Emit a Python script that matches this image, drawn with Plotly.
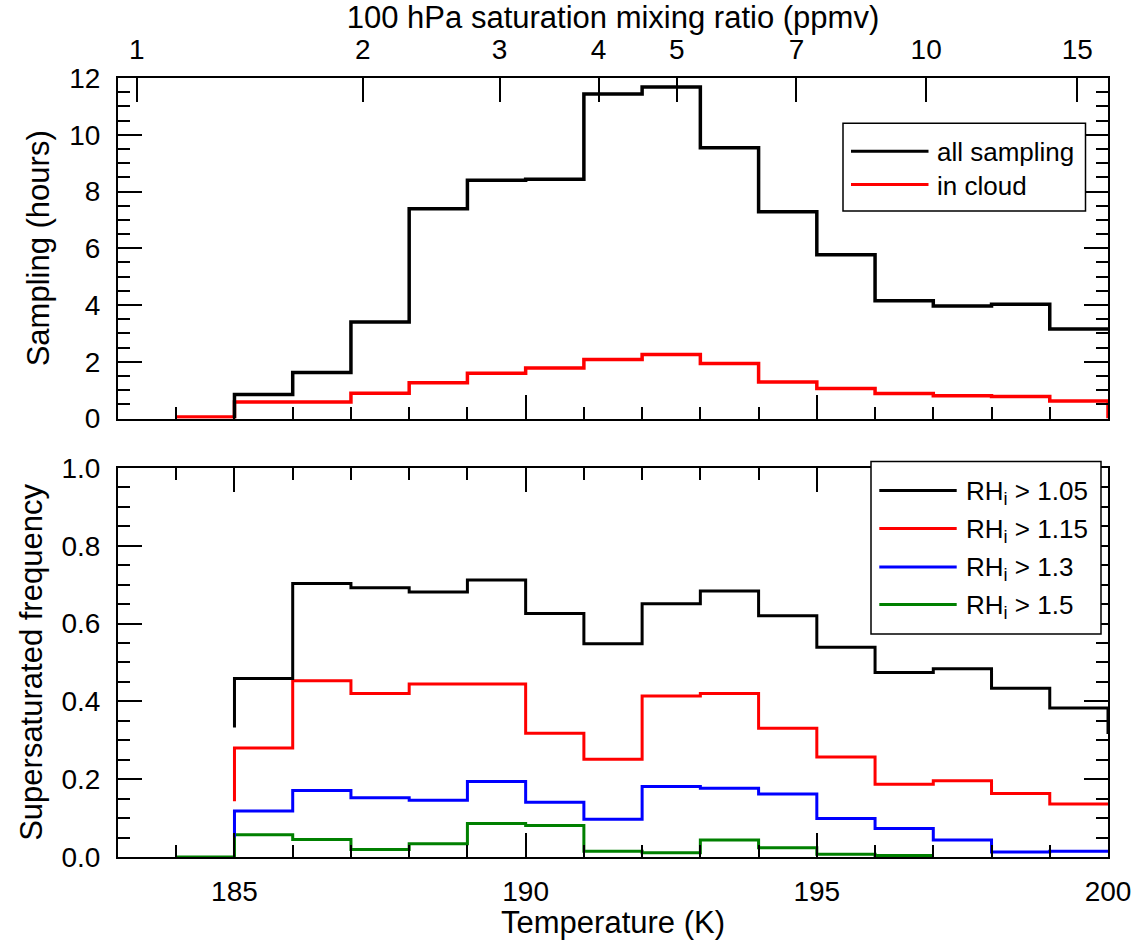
import math
import plotly.graph_objects as go

# ---------------- data ----------------
# Top panel: sampling hours in 1 K temperature bins
all_edges = [185, 186, 187, 188, 189, 190, 191, 192, 193, 194, 195, 196, 197, 198, 199, 200]
all_sampling = [0.85, 1.62, 3.40, 7.39, 8.40, 8.43, 11.44, 11.68, 9.54, 7.29, 5.77, 4.15, 3.97, 4.03, 3.16]
all_start = 0.0

cloud_edges = [184, 185, 186, 187, 188, 189, 190, 191, 192, 193, 194, 195, 196, 197, 198, 199, 200]
in_cloud = [0.06, 0.58, 0.58, 0.89, 1.26, 1.60, 1.78, 2.08, 2.26, 1.94, 1.29, 1.06, 0.88, 0.80, 0.78, 0.62]
cloud_end = 0.0

# Bottom panel: supersaturated frequency
rh_edges = [185, 186, 187, 188, 189, 190, 191, 192, 193, 194, 195, 196, 197, 198, 199, 200]
rh105 = [0.459, 0.703, 0.692, 0.681, 0.712, 0.626, 0.548, 0.651, 0.684, 0.620, 0.539, 0.474, 0.484, 0.434, 0.383]
rh105_start, rh105_end = 0.333, 0.316
rh115 = [0.280, 0.453, 0.420, 0.445, 0.445, 0.318, 0.251, 0.414, 0.420, 0.331, 0.257, 0.187, 0.196, 0.163, 0.136]
rh115_start = 0.143
rh130 = [0.118, 0.171, 0.152, 0.146, 0.194, 0.141, 0.097, 0.181, 0.177, 0.162, 0.099, 0.073, 0.044, 0.013, 0.015]
rh130_start = 0.05
green_edges = [184, 185, 186, 187, 188, 189, 190, 191, 192, 193, 194, 195, 196, 197]
rh150 = [0.0, 0.057, 0.045, 0.019, 0.034, 0.086, 0.081, 0.015, 0.011, 0.044, 0.024, 0.007, 0.004]

# Top axis: 100 hPa saturation mixing ratio labels (ppmv)
mixing_ratio_ticks = [1, 2, 3, 4, 5, 7, 10, 15]
pressure_pa = 10000.0

# ---------------- helpers ----------------
def ln_psat_ice(T):
    # Murphy & Koop (2005) saturation vapour pressure over ice (Pa)
    return 9.550426 - 5723.265 / T + 3.53068 * math.log(T) - 0.00728332 * T

def temp_for_ppmv(w):
    target = math.log(w * 1e-6 * pressure_pa)
    lo, hi = 150.0, 250.0
    for _ in range(80):
        mid = 0.5 * (lo + hi)
        if ln_psat_ice(mid) < target:
            lo = mid
        else:
            hi = mid
    return 0.5 * (lo + hi)

def step_xy(edges, vals, start=None, end=None):
    xs = list(edges)
    ys = list(vals) + [vals[-1]]
    if start is not None:
        xs = [edges[0]] + xs
        ys = [start] + ys
    if end is not None:
        xs = xs + [edges[-1]]
        ys = ys + [end]
    return xs, ys

top_tickvals = [temp_for_ppmv(w) for w in mixing_ratio_ticks]
top_ticktext = [str(w) for w in mixing_ratio_ticks]

FONT = "Liberation Sans, Arial, Helvetica, sans-serif"
TICKF = dict(family=FONT, size=28, color="black")
TITLEF = dict(family=FONT, size=31, color="black")

fig = go.Figure()

def add_step(edges, vals, color, width, xa, ya, start=None, end=None, name=""):
    xs, ys = step_xy(edges, vals, start, end)
    fig.add_trace(go.Scatter(x=xs, y=ys, mode="lines", line=dict(color=color, width=width, shape="hv"),
                             xaxis=xa, yaxis=ya, showlegend=False, cliponaxis=False, name=name,
                             hoverinfo="skip"))

add_step(cloud_edges, in_cloud, "#ff0000", 3.5, "x", "y", end=cloud_end, name="in cloud")
add_step(all_edges, all_sampling, "#000000", 3.5, "x", "y", start=all_start, name="all sampling")

add_step(green_edges, rh150, "#008000", 3, "x2", "y2", name="RHi > 1.5")
add_step(rh_edges, rh130, "#0000ff", 3, "x2", "y2", start=rh130_start, name="RHi > 1.3")
add_step(rh_edges, rh115, "#ff0000", 3, "x2", "y2", start=rh115_start, name="RHi > 1.15")
add_step(rh_edges, rh105, "#000000", 3, "x2", "y2", start=rh105_start, end=rh105_end, name="RHi > 1.05")

# dummy trace for the top (mixing ratio) axis
fig.add_trace(go.Scatter(x=[], y=[], xaxis="x3", yaxis="y", showlegend=False))

axis_common = dict(showline=True, linecolor="black", linewidth=2, showgrid=False, zeroline=False,
                   ticks="inside", tickcolor="black", tickwidth=1.5, ticklen=24, tickfont=TICKF)

minor_x = dict(dtick=1, ticks="inside", ticklen=12, tickwidth=1.5, tickcolor="black", showgrid=False)

top_dom = [0.5628, 1.0]
bot_dom = [0.0, 0.4994]

fig.update_layout(
    width=1145, height=940,
    margin=dict(l=118, r=37, t=74, b=73, pad=0),
    paper_bgcolor="white", plot_bgcolor="white",
    showlegend=False,
    font=dict(family=FONT, color="black"),
    xaxis=dict(**axis_common, domain=[0, 1], anchor="y", range=[183, 200], tick0=0, dtick=5,
               showticklabels=False, mirror=False, minor=minor_x),
    yaxis=dict(**axis_common, domain=top_dom, anchor="x", range=[0, 12], tick0=0, dtick=2,
               mirror="ticks", ticklabelstandoff=10,
               minor=dict(dtick=0.5, ticks="inside", ticklen=12, tickwidth=1.5, tickcolor="black", showgrid=False),
               title=dict(text="Sampling (hours)", font=TITLEF, standoff=10)),
    xaxis3=dict(**axis_common, overlaying="x", anchor="y", side="top", range=[183, 200],
                tickmode="array", tickvals=top_tickvals, ticktext=top_ticktext, ticklabelstandoff=6,
                title=dict(text="100 hPa saturation mixing ratio (ppmv)", font=TITLEF, standoff=0)),
    xaxis2=dict(**axis_common, domain=[0, 1], anchor="y2", range=[183, 200], tick0=0, dtick=5,
                mirror="ticks", minor=minor_x, ticklabelstandoff=8,
                title=dict(text="Temperature (K)", font=TITLEF, standoff=0)),
    yaxis2=dict(**axis_common, domain=bot_dom, anchor="x2", range=[0, 1.0], tick0=0, dtick=0.2,
                tickformat=".1f", mirror="ticks", ticklabelstandoff=10,
                minor=dict(dtick=0.05, ticks="inside", ticklen=12, tickwidth=1.5, tickcolor="black", showgrid=False),
                title=dict(text="Supersaturated frequency", font=TITLEF, standoff=10)),
)

# ---------------- manual legends ----------------
PL, PR = 118.0, 1108.0
TOP_Y0, TOP_Y1 = 420.7, 74.0
BOT_Y0, BOT_Y1 = 867.0, 471.0

def fx(px):
    return (px - PL) / (PR - PL)

def fy_top(py):
    return (TOP_Y0 - py) / (TOP_Y0 - TOP_Y1)

def fy_bot(py):
    return (BOT_Y0 - py) / (BOT_Y0 - BOT_Y1)

shapes = []
annotations = []
LEGF = dict(family=FONT, size=26, color="black")

# top legend
shapes.append(dict(type="rect", xref="x domain", yref="y domain", x0=fx(843), x1=fx(1085.5),
                   y0=fy_top(209.5), y1=fy_top(120), line=dict(color="black", width=1.5),
                   fillcolor="white", layer="above"))
top_items = [("all sampling", "#000000", 148.5), ("in cloud", "#ff0000", 182.5)]
for label, col, py in top_items:
    shapes.append(dict(type="line", xref="x domain", yref="y domain", x0=fx(851), x1=fx(928.5),
                       y0=fy_top(py), y1=fy_top(py), line=dict(color=col, width=3), layer="above"))
    annotations.append(dict(text=label, xref="x domain", yref="y domain", x=fx(935), y=fy_top(py + 1),
                            xanchor="left", yanchor="middle", showarrow=False, font=LEGF))

# bottom legend
shapes.append(dict(type="rect", xref="x2 domain", yref="y2 domain", x0=fx(871), x1=fx(1101),
                   y0=fy_bot(640), y1=fy_bot(464.3), line=dict(color="black", width=1.5),
                   fillcolor="white", layer="above"))
bot_items = [("RH<sub>i</sub> > 1.05", "#000000", 494),
             ("RH<sub>i</sub> > 1.15", "#ff0000", 532.7),
             ("RH<sub>i</sub> > 1.3", "#0000ff", 571.7),
             ("RH<sub>i</sub> > 1.5", "#008000", 610)]
for label, col, py in bot_items:
    shapes.append(dict(type="line", xref="x2 domain", yref="y2 domain", x0=fx(879.3), x1=fx(956.7),
                       y0=fy_bot(py), y1=fy_bot(py), line=dict(color=col, width=3), layer="above"))
    annotations.append(dict(text=label, xref="x2 domain", yref="y2 domain", x=fx(964), y=fy_bot(py + 2),
                            xanchor="left", yanchor="middle", showarrow=False, font=LEGF))

fig.update_layout(shapes=shapes, annotations=annotations)

fig.write_html("out.html")
